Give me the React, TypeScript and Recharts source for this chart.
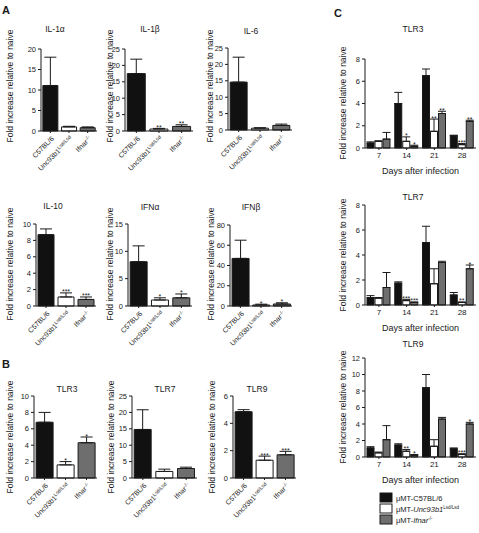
import React from 'react';
import { BarChart, Bar, XAxis, YAxis, ErrorBar, LabelList, Cell } from 'recharts';

const FONT = '"Liberation Sans", Arial, Helvetica, sans-serif';
const INK = '#1a1a1a';

// genotypes shown in panels A and B
const genotypes = ['C57BL/6', 'Unc93b1', 'Ifnar'];
const genotypeFills = ['#111111', '#ffffff', '#6e6e6e'];

// Panel A - cytokines (mean, SEM, significance)
const il1aMean = [11.1, 1.0, 0.8];
const il1aSem = [6.9, 0.15, 0.2];
const il1aSig = ['', '', ''];

const il1bMean = [17.5, 0.6, 1.4];
const il1bSem = [4.4, 0.2, 0.5];
const il1bSig = ['', '**', '**'];

const il6Mean = [14.6, 0.55, 1.4];
const il6Sem = [7.6, 0.15, 0.4];
const il6Sig = ['', '', ''];

const il10Mean = [8.7, 1.1, 0.8];
const il10Sem = [0.7, 0.5, 0.3];
const il10Sig = ['', '***', '***'];

const ifnaMean = [8.1, 1.1, 1.5];
const ifnaSem = [2.9, 0.4, 0.7];
const ifnaSig = ['', '*', '*'];

const ifnbMean = [47, 1.0, 2.0];
const ifnbSem = [18, 0.8, 1.2];
const ifnbSig = ['', '*', '*'];

// Panel B - TLRs
const bTlr3Mean = [6.8, 1.6, 4.3];
const bTlr3Sem = [1.2, 0.4, 0.7];
const bTlr3Sig = ['', '*', '*'];

const bTlr7Mean = [14.8, 2.0, 2.9];
const bTlr7Sem = [6.0, 0.7, 0.4];
const bTlr7Sig = ['', '', ''];

const bTlr9Mean = [4.85, 1.3, 1.7];
const bTlr9Sem = [0.15, 0.3, 0.25];
const bTlr9Sig = ['', '***', '***'];

// Panel C - time course
const days = ['7', '14', '21', '28'];

const cTlr3C57 = [0.45, 4.0, 6.5, 1.1];
const cTlr3C57Sem = [0.1, 1.0, 0.6, 0.05];
const cTlr3Unc = [0.6, 0.6, 1.5, 0.3];
const cTlr3UncSem = [0.05, 0.4, 1.1, 0.1];
const cTlr3UncSig = ['', '*', '**', '***'];
const cTlr3Ifn = [0.8, 0.15, 3.1, 2.4];
const cTlr3IfnSem = [0.6, 0.1, 0.2, 0.1];
const cTlr3IfnSig = ['', '*', '**', '**'];

const cTlr7C57 = [0.6, 1.75, 5.0, 0.8];
const cTlr7C57Sem = [0.15, 0.1, 1.3, 0.2];
const cTlr7Unc = [0.55, 0.35, 1.7, 0.2];
const cTlr7UncSem = [0.05, 0.1, 1.2, 0.05];
const cTlr7UncSig = ['', '***', '', '**'];
const cTlr7Ifn = [1.4, 0.2, 3.4, 2.9];
const cTlr7IfnSem = [1.2, 0.05, 0.1, 0.3];
const cTlr7IfnSig = ['', '***', '', '*'];

const cTlr9C57 = [1.1, 1.45, 8.4, 1.0];
const cTlr9C57Sem = [0.15, 0.15, 1.6, 0.1];
const cTlr9Unc = [0.5, 0.7, 1.3, 0.3];
const cTlr9UncSem = [0.1, 0.2, 0.8, 0.1];
const cTlr9UncSig = ['', '**', '', '***'];
const cTlr9Ifn = [2.1, 0.2, 4.6, 4.0];
const cTlr9IfnSem = [1.7, 0.1, 0.2, 0.2];
const cTlr9IfnSig = ['', '*', '', '*'];

// axis ticks
const ticks20 = [0, 5, 10, 15, 20];
const ticks25 = [0, 5, 10, 15, 20, 25];
const ticks10 = [0, 2, 4, 6, 8, 10];
const ticks15 = [0, 5, 10, 15];
const ticks80 = [0, 20, 40, 60, 80];
const ticks6 = [0, 2, 4, 6];
const ticks8 = [0, 2, 4, 6, 8];
const ticks12 = [0, 2, 4, 6, 8, 10, 12];

const genotypeRows = (mean: number[], sem: number[], sig: string[]) =>
    genotypes.map((name, i) => ({ name, mean: mean[i], err: [0, sem[i]], sig: sig[i] }));

const dayRows = (
    b: number[], bs: number[], w: number[], ws: number[], wsig: string[],
    g: number[], gs: number[], gsig: string[]
) =>
    days.map((day, i) => ({
        day,
        b: b[i], bErr: [0, bs[i]], bSig: '',
        w: w[i], wErr: [0, ws[i]], wSig: wsig[i],
        g: g[i], gErr: [0, gs[i]], gSig: gsig[i],
    }));

// asterisks sit just above the top of the error bar
const sigLabel = (rows: any[], valKey: string, errKey: string, sigKey: string) => (p: any) => {
    const vb = p.viewBox ?? p;
    const row = rows[p.index];
    if (!row || !row[sigKey]) return null;
    const perUnit = row[valKey] ? vb.height / row[valKey] : 0;
    const top = vb.y - row[errKey][1] * perUnit;
    return (
        <text x={vb.x + vb.width / 2} y={top + 1.5} textAnchor="middle" fontSize={7} fill={INK}>
            {row[sigKey]}
        </text>
    );
};

const GenotypeTick = (props: any) => {
    const { x, y, payload } = props;
    const v = payload.value;
    let body: React.ReactNode = v;
    if (v === 'Unc93b1') body = <>Unc93b1<tspan fontSize={5} dy={-2.5}>Lsd/Lsd</tspan></>;
    if (v === 'Ifnar') body = <>Ifnar<tspan fontSize={5} dy={-2.5}>-/-</tspan></>;
    return (
        <g transform={`translate(${x + 2},${y + 2})`}>
            <text textAnchor="end" transform="rotate(-45)" fontSize={7} fill={INK} dy={3}>
                {body}
            </text>
        </g>
    );
};

const GenotypePanel = ({ axisX, top, plotW, plotH, rows, ticks }: any) => {
    const YW = 22, MT = 10, XH = 54;
    return (
        <div style={{ position: 'absolute', left: axisX - YW, top: top - MT }}>
            <BarChart
                width={YW + plotW + 2}
                height={MT + plotH + XH}
                data={rows}
                margin={{ top: MT, right: 2, bottom: 0, left: 0 }}
                barCategoryGap="10%"
            >
                <XAxis dataKey="name" height={XH} interval={0} tickSize={2}
                    axisLine={{ stroke: INK }} tickLine={{ stroke: INK }} tick={<GenotypeTick />} />
                <YAxis width={YW} domain={[0, ticks[ticks.length - 1]]} ticks={ticks} interval={0}
                    tickSize={3} axisLine={{ stroke: INK }} tickLine={{ stroke: INK }}
                    tick={{ fontSize: 7.5, fill: INK }} />
                <Bar dataKey="mean" stroke={INK} strokeWidth={1} isAnimationActive={false}>
                    {rows.map((_: any, i: number) => <Cell key={i} fill={genotypeFills[i]} />)}
                    <ErrorBar dataKey="err" width={6} stroke={INK} strokeWidth={1} />
                    <LabelList dataKey="sig" content={sigLabel(rows, 'mean', 'err', 'sig')} />
                </Bar>
            </BarChart>
        </div>
    );
};

const TimecoursePanel = ({ top, plotH, rows, ticks }: any) => {
    const axisX = 365, plotW = 111, YW = 20, MT = 10, XH = 30;
    const series = [
        { key: 'b', fill: genotypeFills[0] },
        { key: 'w', fill: genotypeFills[1] },
        { key: 'g', fill: genotypeFills[2] },
    ];
    return (
        <div style={{ position: 'absolute', left: axisX - YW, top: top - MT }}>
            <BarChart
                width={YW + plotW + 2}
                height={MT + plotH + XH}
                data={rows}
                margin={{ top: MT, right: 2, bottom: 0, left: 0 }}
                barCategoryGap={2}
                barGap={1}
            >
                <XAxis dataKey="day" height={XH} interval={0} tickSize={2}
                    axisLine={{ stroke: INK }} tickLine={{ stroke: INK }}
                    tick={{ fontSize: 8, fill: INK }}
                    label={{ value: 'Days after infection', position: 'insideBottom', offset: 4, fontSize: 9, fill: INK }} />
                <YAxis width={YW} domain={[0, ticks[ticks.length - 1]]} ticks={ticks} interval={0}
                    tickSize={3} axisLine={{ stroke: INK }} tickLine={{ stroke: INK }}
                    tick={{ fontSize: 7.5, fill: INK }} />
                {series.map((s) => (
                    <Bar key={s.key} dataKey={s.key} fill={s.fill} stroke={INK} strokeWidth={1} isAnimationActive={false}>
                        <ErrorBar dataKey={`${s.key}Err`} width={4} stroke={INK} strokeWidth={1} />
                        <LabelList dataKey={`${s.key}Sig`} content={sigLabel(rows, s.key, `${s.key}Err`, `${s.key}Sig`)} />
                    </Bar>
                ))}
            </BarChart>
        </div>
    );
};

const YLabel = ({ x, y }: { x: number; y: number }) => (
    <text transform={`translate(${x},${y}) rotate(-90)`} textAnchor="middle" dominantBaseline="central"
        fontSize={8.5} fill={INK}>
        Fold increase relative to naive
    </text>
);

const Title = ({ x, y, children }: any) => (
    <text x={x} y={y} textAnchor="middle" dominantBaseline="central" fontSize={8.5} fill={INK}>{children}</text>
);

export default function App() {
    return (
        <div style={{ position: 'absolute', left: 0, top: 0, width: 479, height: 533, background: '#fff', fontFamily: FONT, overflow: 'hidden' }}>
            {/* A, row 1 */}
            <GenotypePanel axisX={41} top={49} plotW={56} plotH={82} ticks={ticks20} rows={genotypeRows(il1aMean, il1aSem, il1aSig)} />
            <GenotypePanel axisX={125} top={49} plotW={68} plotH={82} ticks={ticks25} rows={genotypeRows(il1bMean, il1bSem, il1bSig)} />
            <GenotypePanel axisX={228} top={48} plotW={64} plotH={82} ticks={ticks25} rows={genotypeRows(il6Mean, il6Sem, il6Sig)} />
            {/* A, row 2 */}
            <GenotypePanel axisX={36} top={224} plotW={60} plotH={82} ticks={ticks10} rows={genotypeRows(il10Mean, il10Sem, il10Sig)} />
            <GenotypePanel axisX={128} top={224} plotW={64} plotH={82} ticks={ticks15} rows={genotypeRows(ifnaMean, ifnaSem, ifnaSig)} />
            <GenotypePanel axisX={230} top={225} plotW={62} plotH={81} ticks={ticks80} rows={genotypeRows(ifnbMean, ifnbSem, ifnbSig)} />
            {/* B */}
            <GenotypePanel axisX={34} top={396} plotW={63} plotH={82} ticks={ticks10} rows={genotypeRows(bTlr3Mean, bTlr3Sem, bTlr3Sig)} />
            <GenotypePanel axisX={132} top={396} plotW={65} plotH={82} ticks={ticks25} rows={genotypeRows(bTlr7Mean, bTlr7Sem, bTlr7Sig)} />
            <GenotypePanel axisX={233} top={396} plotW={63} plotH={82} ticks={ticks6} rows={genotypeRows(bTlr9Mean, bTlr9Sem, bTlr9Sig)} />
            {/* C */}
            <TimecoursePanel top={59} plotH={89} ticks={ticks8}
                rows={dayRows(cTlr3C57, cTlr3C57Sem, cTlr3Unc, cTlr3UncSem, cTlr3UncSig, cTlr3Ifn, cTlr3IfnSem, cTlr3IfnSig)} />
            <TimecoursePanel top={205} plotH={100} ticks={ticks8}
                rows={dayRows(cTlr7C57, cTlr7C57Sem, cTlr7Unc, cTlr7UncSem, cTlr7UncSig, cTlr7Ifn, cTlr7IfnSem, cTlr7IfnSig)} />
            <TimecoursePanel top={358} plotH={99} ticks={ticks12}
                rows={dayRows(cTlr9C57, cTlr9C57Sem, cTlr9Unc, cTlr9UncSem, cTlr9UncSig, cTlr9Ifn, cTlr9IfnSem, cTlr9IfnSig)} />

            <svg width={479} height={533} style={{ position: 'absolute', left: 0, top: 0, pointerEvents: 'none' }}>
                <text x={2} y={14} fontSize={11} fontWeight="bold" fill={INK}>A</text>
                <text x={2} y={368} fontSize={11} fontWeight="bold" fill={INK}>B</text>
                <text x={334} y={17} fontSize={11} fontWeight="bold" fill={INK}>C</text>

                <Title x={55} y={29}>IL-1α</Title>
                <Title x={150} y={29}>IL-1β</Title>
                <Title x={251} y={31}>IL-6</Title>
                <Title x={53} y={206}>IL-10</Title>
                <Title x={150} y={207}>IFNα</Title>
                <Title x={251} y={207}>IFNβ</Title>
                <Title x={67} y={389}>TLR3</Title>
                <Title x={165} y={389}>TLR7</Title>
                <Title x={257} y={389}>TLR9</Title>
                <Title x={413} y={29}>TLR3</Title>
                <Title x={413} y={197}>TLR7</Title>
                <Title x={413} y={344}>TLR9</Title>

                <YLabel x={10} y={86} />
                <YLabel x={110} y={86} />
                <YLabel x={210} y={86} />
                <YLabel x={10} y={264} />
                <YLabel x={110} y={264} />
                <YLabel x={211} y={264} />
                <YLabel x={10} y={437} />
                <YLabel x={111} y={437} />
                <YLabel x={212} y={437} />
                <YLabel x={343} y={103} />
                <YLabel x={343} y={255} />
                <YLabel x={343} y={407} />

                {/* legend */}
                <rect x={380} y={493} width={12} height={9} fill={genotypeFills[0]} stroke={INK} />
                <rect x={380} y={504} width={12} height={9} fill={genotypeFills[1]} stroke={INK} />
                <rect x={380} y={515} width={12} height={9} fill={genotypeFills[2]} stroke={INK} />
                <text x={396} y={500.5} fontSize={7.5} fill={INK}>μMT-C57BL/6</text>
                <text x={396} y={511.5} fontSize={7.5} fill={INK}>
                    μMT-<tspan fontStyle="italic">Unc93b1</tspan><tspan fontSize={4.5} dy={-2.5}>Lsd/Lsd</tspan>
                </text>
                <text x={396} y={522.5} fontSize={7.5} fill={INK}>
                    μMT-<tspan fontStyle="italic">Ifnar</tspan><tspan fontSize={4.5} dy={-2.5}>-/-</tspan>
                </text>
            </svg>
        </div>
    );
}
